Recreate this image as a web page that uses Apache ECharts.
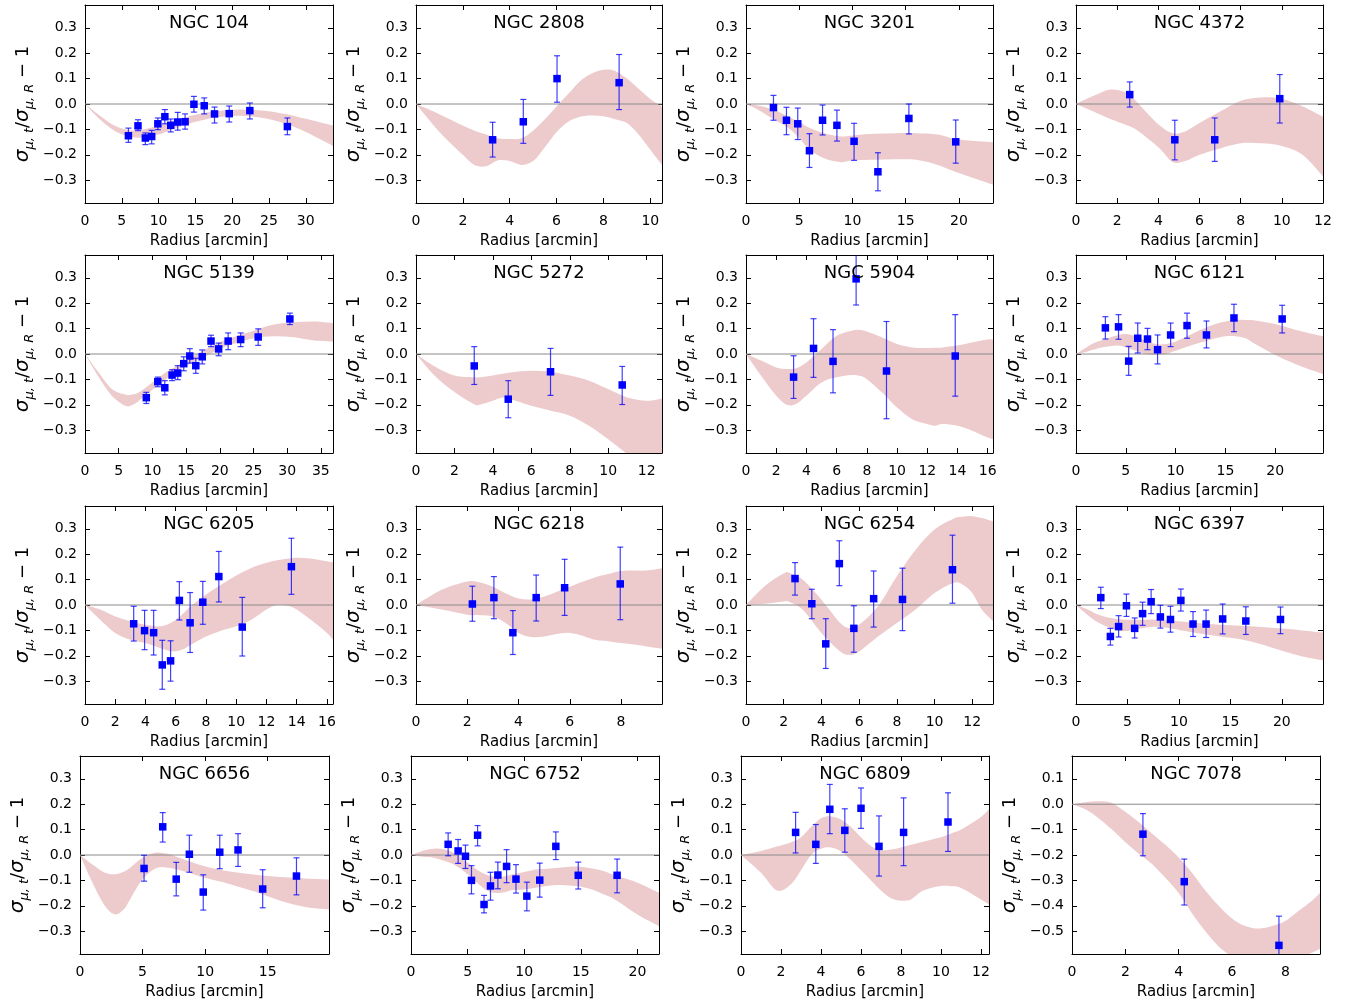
<!DOCTYPE html>
<html><head><meta charset="utf-8">
<script src="https://cdn.jsdelivr.net/npm/echarts@6/dist/echarts.min.js"></script>
<style>html,body{margin:0;padding:0;background:#fff}#c{width:1357px;height:1004px}</style>
</head><body><div id="c"></div>
<script>
// ---------- panel meta ----------
const NAMES = ['NGC 104','NGC 2808','NGC 3201','NGC 4372','NGC 5139','NGC 5272','NGC 5904','NGC 6121',
               'NGC 6205','NGC 6218','NGC 6254','NGC 6397','NGC 6656','NGC 6752','NGC 6809','NGC 7078'];
const XMAX = [33.7,10.5,23.2,12,36.8,12.8,16.35,24.8,16.4,9.6,13.1,24,19.9,21.9,12.4,9.3];
const XSTEP = [5,2,5,2,5,2,2,5,2,2,2,5,5,5,2,2];
const XTICKMAX = [30,10,20,12,35,12,16,20,16,8,12,20,15,20,12,8];
const YRANGE_STD = [-0.39,0.39];
const YRANGE_7078 = [-0.59,0.19];
const YTICKS_STD = [-0.3,-0.2,-0.1,0,0.1,0.2,0.3];
const YTICKS_7078 = [-0.5,-0.4,-0.3,-0.2,-0.1,0,0.1];

// ---------- points: [radius, value, errLow, errHigh] ----------
const p104 = [[5.9,-0.125,-0.151,-0.095],[7.2,-0.086,-0.105,-0.062],[8.2,-0.134,-0.16,-0.114],[9.06,-0.128,-0.157,-0.104],
  [9.9,-0.078,-0.101,-0.055],[10.85,-0.05,-0.078,-0.022],[11.65,-0.084,-0.11,-0.059],[12.6,-0.071,-0.103,-0.033],
  [13.6,-0.07,-0.099,-0.039],[14.8,-0.001,-0.032,0.03],[16.2,-0.007,-0.039,0.024],[17.6,-0.039,-0.075,-0.012],
  [19.6,-0.038,-0.071,-0.008],[22.4,-0.026,-0.059,0.004],[27.5,-0.089,-0.121,-0.055]];
const p2808 = [[3.27,-0.141,-0.209,-0.072],[4.58,-0.07,-0.155,0.018],[6.02,0.10,0.007,0.19],[8.67,0.084,-0.022,0.195]];
const p3201 = [[2.58,-0.014,-0.064,0.034],[3.8,-0.064,-0.121,-0.013],[4.86,-0.078,-0.14,-0.016],[5.96,-0.184,-0.25,-0.117],
  [7.19,-0.064,-0.122,-0.004],[8.54,-0.084,-0.146,-0.024],[10.15,-0.147,-0.222,-0.076],[12.39,-0.267,-0.342,-0.192],
  [15.3,-0.057,-0.118,0.0],[19.7,-0.149,-0.233,-0.063]];
const p4372 = [[2.61,0.037,-0.012,0.087],[4.8,-0.141,-0.22,-0.064],[6.74,-0.141,-0.226,-0.055],[9.9,0.021,-0.075,0.116]];
const p5139 = [[9.1,-0.172,-0.195,-0.151],[10.8,-0.109,-0.129,-0.091],[11.84,-0.133,-0.161,-0.105],[12.92,-0.083,-0.105,-0.062],
  [13.76,-0.075,-0.101,-0.046],[14.65,-0.038,-0.066,-0.011],[15.55,-0.008,-0.036,0.021],[16.44,-0.046,-0.076,-0.017],
  [17.4,-0.011,-0.039,0.016],[18.7,0.051,0.029,0.074],[19.83,0.02,-0.007,0.043],[21.24,0.051,0.017,0.083],
  [23.1,0.057,0.029,0.083],[25.7,0.067,0.034,0.099],[30.4,0.138,0.116,0.161]];
const p5272 = [[3.03,-0.047,-0.12,0.029],[4.8,-0.178,-0.251,-0.105],[7.0,-0.07,-0.163,0.022],[10.73,-0.122,-0.199,-0.049]];
const p5904 = [[3.15,-0.091,-0.175,-0.007],[4.47,0.022,-0.092,0.139],[5.76,-0.029,-0.153,0.096],[7.29,0.296,0.193,0.41],
  [9.3,-0.067,-0.255,0.128],[13.85,-0.008,-0.166,0.155]];
const p6121 = [[2.95,0.103,0.059,0.147],[4.27,0.107,0.058,0.155],[5.29,-0.028,-0.084,0.03],[6.2,0.062,0.004,0.122],
  [7.18,0.059,0.017,0.101],[8.19,0.017,-0.039,0.075],[9.5,0.075,0.029,0.122],[11.15,0.112,0.062,0.161],
  [13.1,0.075,0.024,0.13],[15.86,0.142,0.088,0.196],[20.7,0.138,0.083,0.192]];
const p6205 = [[3.22,-0.074,-0.142,-0.005],[3.94,-0.101,-0.176,-0.021],[4.54,-0.109,-0.197,-0.021],[5.11,-0.236,-0.332,-0.139],
  [5.66,-0.22,-0.3,-0.141],[6.24,0.018,-0.059,0.092],[6.95,-0.07,-0.187,0.049],[7.79,0.011,-0.076,0.093],
  [8.85,0.112,0.012,0.211],[10.4,-0.087,-0.201,0.03],[13.65,0.151,0.042,0.263]];
const p6218 = [[2.2,0.004,-0.064,0.074],[3.04,0.029,-0.054,0.112],[3.78,-0.109,-0.195,-0.022],[4.69,0.029,-0.063,0.118],
  [5.8,0.068,-0.041,0.18],[7.97,0.083,-0.058,0.228]];
const p6254 = [[2.6,0.104,0.039,0.167],[3.49,0.005,-0.054,0.062],[4.23,-0.153,-0.25,-0.054],[4.95,0.163,0.076,0.253],
  [5.72,-0.092,-0.186,-0.003],[6.77,0.025,-0.087,0.134],[8.3,0.022,-0.101,0.145],[10.95,0.139,0.007,0.275]];
const p6397 = [[2.41,0.029,-0.014,0.07],[3.34,-0.124,-0.158,-0.092],[4.14,-0.085,-0.126,-0.042],[4.9,-0.003,-0.045,0.043],
  [5.7,-0.092,-0.13,-0.051],[6.47,-0.034,-0.08,0.011],[7.3,0.013,-0.034,0.061],[8.2,-0.047,-0.091,-0.001],
  [9.18,-0.057,-0.107,-0.005],[10.19,0.018,-0.024,0.063],[11.37,-0.075,-0.124,-0.026],[12.64,-0.075,-0.128,-0.02],
  [14.25,-0.055,-0.114,0.004],[16.5,-0.063,-0.116,-0.007],[19.87,-0.057,-0.113,-0.008]];
const p6656 = [[5.12,-0.053,-0.103,-0.001],[6.61,0.111,0.051,0.167],[7.69,-0.095,-0.161,-0.029],[8.74,0.003,-0.068,0.078],
  [9.85,-0.146,-0.217,-0.078],[11.17,0.011,-0.054,0.078],[12.63,0.02,-0.045,0.084],[14.6,-0.134,-0.208,-0.058],
  [17.3,-0.083,-0.157,-0.011]];
const p6752 = [[3.28,0.042,-0.003,0.087],[4.16,0.016,-0.033,0.061],[4.81,-0.005,-0.053,0.039],[5.34,-0.1,-0.153,-0.042],
  [5.88,0.078,0.036,0.116],[6.45,-0.195,-0.228,-0.159],[7.02,-0.122,-0.178,-0.068],[7.67,-0.079,-0.133,-0.028],
  [8.44,-0.045,-0.109,0.021],[9.27,-0.095,-0.15,-0.038],[10.23,-0.162,-0.22,-0.107],[11.37,-0.099,-0.166,-0.032],
  [12.79,0.034,-0.018,0.091],[14.77,-0.08,-0.134,-0.028],[18.2,-0.08,-0.149,-0.016]];
const p6809 = [[2.73,0.089,0.008,0.168],[3.74,0.042,-0.033,0.12],[4.44,0.18,0.084,0.278],[5.19,0.097,0.011,0.182],
  [6.0,0.184,0.105,0.264],[6.9,0.034,-0.083,0.154],[8.13,0.089,-0.042,0.225],[10.35,0.13,0.014,0.245]];
const p7078 = [[2.66,-0.118,-0.203,-0.037],[4.21,-0.305,-0.397,-0.216],[7.76,-0.556,-0.67,-0.441]];

// ---------- model bands: [radius, lower, upper] ----------
const b104 = [[0,0,0],[2,-0.06,-0.045],[4,-0.105,-0.085],[6,-0.128,-0.103],[8,-0.132,-0.1],[10,-0.12,-0.085],[12,-0.098,-0.065],
  [15,-0.07,-0.042],[18,-0.052,-0.028],[21,-0.046,-0.022],[24,-0.054,-0.026],[27,-0.075,-0.038],[30,-0.11,-0.058],[33.7,-0.165,-0.085]];
const b2808 = [[0,0,0],[1,-0.11,-0.04],[2,-0.2,-0.085],[2.5,-0.24,-0.105],[3,-0.245,-0.12],[3.5,-0.222,-0.135],[4,-0.225,-0.138],
  [4.5,-0.24,-0.135],[5,-0.225,-0.105],[5.5,-0.17,-0.06],[6,-0.11,-0.01],[6.5,-0.07,0.04],[7,-0.05,0.09],[7.5,-0.045,0.12],
  [8,-0.048,0.135],[8.5,-0.06,0.13],[9,-0.075,0.1],[9.5,-0.12,0.06],[10,-0.18,0.02],[10.5,-0.24,-0.01]];
const b3201 = [[0,0,0],[1,-0.02,-0.005],[2,-0.045,-0.015],[3,-0.07,-0.03],[4,-0.095,-0.05],[5,-0.135,-0.07],[6,-0.18,-0.095],
  [7.5,-0.217,-0.117],[9,-0.229,-0.128],[10,-0.222,-0.124],[12,-0.22,-0.117],[14,-0.218,-0.115],[16,-0.22,-0.115],
  [18,-0.24,-0.12],[20,-0.272,-0.14],[23.2,-0.318,-0.151]];
const b4372 = [[0,0,0],[1,-0.035,0.037],[1.7,-0.06,0.057],[2.5,-0.085,0.043],[3,-0.105,0.004],[4,-0.17,-0.08],[4.7,-0.228,-0.115],
  [5.3,-0.225,-0.108],[6,-0.2,-0.075],[7,-0.175,-0.03],[8,-0.155,0.013],[9,-0.155,0.026],[10,-0.165,0.021],[11,-0.2,-0.009],[12,-0.285,-0.05]];
const b5139 = [[0,0,0],[2,-0.09,-0.072],[4,-0.165,-0.138],[6,-0.204,-0.16],[7,-0.201,-0.16],[8,-0.184,-0.151],[10,-0.141,-0.112],
  [12,-0.099,-0.072],[14,-0.062,-0.04],[16,-0.033,-0.009],[18,-0.007,0.02],[20,0.02,0.046],[22,0.039,0.066],[25,0.062,0.092],
  [28,0.07,0.116],[31,0.066,0.125],[34,0.053,0.128],[36.8,0.049,0.122]];
const b5272 = [[0,0,0],[1,-0.088,-0.05],[2,-0.15,-0.085],[3,-0.197,-0.092],[3.3,-0.2,-0.092],[4,-0.184,-0.085],[4.5,-0.171,-0.078],
  [5,-0.18,-0.072],[6,-0.204,-0.066],[7,-0.224,-0.07],[8,-0.243,-0.085],[9,-0.283,-0.105],[10,-0.336,-0.138],[11,-0.395,-0.171],
  [12,-0.455,-0.184],[12.8,-0.49,-0.175]];
const b5904 = [[0,0,0],[1,-0.086,-0.026],[2,-0.164,-0.053],[2.7,-0.2,-0.059],[3.3,-0.197,-0.056],[4,-0.164,-0.033],[5,-0.112,0.02],
  [6,-0.092,0.072],[7,-0.083,0.092],[7.5,-0.086,0.095],[8,-0.099,0.089],[9,-0.151,0.066],[10,-0.211,0.039],[11,-0.257,0.026],
  [12,-0.276,0.024],[12.5,-0.283,0.025],[13,-0.276,0.026],[14,-0.283,0.033],[15,-0.303,0.046],[16,-0.329,0.057],[16.35,-0.336,0.057]];
const b6121 = [[0,0,0],[1,0.008,0.025],[2,0.02,0.046],[4,0.033,0.072],[5,0.026,0.079],[6,0.013,0.07],[7,0.0,0.053],[8,-0.004,0.039],
  [9,0.0,0.039],[10,0.013,0.049],[12,0.039,0.086],[14,0.062,0.118],[15,0.07,0.128],[16,0.07,0.134],[17,0.062,0.134],
  [18,0.039,0.132],[20,-0.004,0.118],[22,-0.039,0.096],[24.8,-0.079,0.07]];
const b6205 = [[0,0,0],[1,-0.058,-0.018],[2,-0.11,-0.045],[3,-0.137,-0.064],[4,-0.15,-0.078],[5,-0.17,-0.084],[5.8,-0.183,-0.066],
  [6.5,-0.174,-0.033],[7,-0.157,-0.005],[8,-0.124,0.041],[9,-0.101,0.08],[10,-0.084,0.116],[11,-0.058,0.146],[12,-0.018,0.166],
  [12.7,0.0,0.176],[13.5,-0.005,0.183],[14,-0.018,0.186],[15,-0.061,0.182],[16,-0.11,0.172],[16.4,-0.137,0.168]];
const b6218 = [[0,0,0],[1,-0.018,0.06],[2,-0.038,0.093],[2.5,-0.04,0.089],[3,-0.045,0.072],[3.5,-0.071,0.046],[4,-0.11,0.026],
  [4.5,-0.126,0.022],[5,-0.124,0.033],[6,-0.11,0.072],[7,-0.137,0.109],[7.5,-0.143,0.122],[8,-0.15,0.134],[8.5,-0.156,0.136],
  [9,-0.163,0.136],[9.6,-0.172,0.145]];
const b6254 = [[0,0,0],[1,0.005,0.075],[2,0.014,0.124],[2.3,0.012,0.126],[3,-0.018,0.1],[4,-0.11,0.021],[5,-0.183,-0.071],
  [5.5,-0.196,-0.091],[6,-0.183,-0.078],[7,-0.124,-0.005],[8,-0.071,0.113],[9,-0.018,0.218],[10,0.047,0.297],[11,0.087,0.34],
  [11.5,0.08,0.348],[12,0.047,0.35],[12.5,-0.018,0.343],[13.1,-0.064,0.33]];
const b6397 = [[0,0,0],[1,-0.035,-0.015],[2,-0.065,-0.035],[3,-0.085,-0.048],[4,-0.1,-0.055],[5,-0.102,-0.058],[6,-0.095,-0.058],
  [7,-0.088,-0.058],[8,-0.086,-0.058],[10,-0.098,-0.064],[12,-0.112,-0.072],[14,-0.124,-0.078],[16,-0.135,-0.082],
  [18,-0.155,-0.087],[20,-0.18,-0.093],[22,-0.203,-0.1],[24,-0.218,-0.108]];
const b6656 = [[0,0,0],[1,-0.109,-0.037],[2,-0.201,-0.07],[2.8,-0.234,-0.076],[3.5,-0.214,-0.066],[4,-0.175,-0.05],[5,-0.096,-0.011],
  [6,-0.054,0.009],[7,-0.05,0.005],[8,-0.06,-0.012],[9,-0.075,-0.03],[10,-0.09,-0.045],[12,-0.115,-0.065],[14,-0.145,-0.078],
  [16,-0.18,-0.087],[18,-0.205,-0.093],[19.9,-0.215,-0.097]];
const b6752 = [[0,0,0],[1,-0.007,0.016],[2,-0.011,0.025],[3,-0.024,0.022],[4,-0.043,0.003],[5,-0.076,-0.03],[6,-0.116,-0.063],
  [7,-0.146,-0.083],[8,-0.149,-0.086],[9,-0.138,-0.076],[10,-0.136,-0.067],[11,-0.129,-0.057],[12,-0.122,-0.054],[13,-0.118,-0.05],
  [14,-0.12,-0.046],[15,-0.125,-0.046],[16,-0.136,-0.053],[17,-0.155,-0.063],[18,-0.175,-0.08],[20,-0.234,-0.109],[21.9,-0.28,-0.149]];
const b6809 = [[0,0,0],[1,-0.07,0.016],[1.8,-0.14,0.033],[2.5,-0.115,0.05],[3,-0.06,0.07],[3.5,0.0,0.11],[4,0.025,0.145],
  [4.5,0.03,0.152],[5,0.015,0.14],[5.5,-0.02,0.11],[6,-0.06,0.07],[6.5,-0.1,0.035],[7,-0.14,0.02],[7.5,-0.17,0.022],[8,-0.18,0.03],
  [8.5,-0.175,0.04],[9,-0.145,0.05],[9.5,-0.13,0.06],[10,-0.122,0.07],[10.5,-0.123,0.085],[11,-0.13,0.1],[12,-0.175,0.15],[12.4,-0.195,0.18]];
const b7078 = [[0,0,0],[0.5,-0.02,0.008],[1,-0.055,0.012],[1.5,-0.1,0.005],[2,-0.15,-0.03],[2.5,-0.195,-0.07],[3,-0.235,-0.115],
  [3.5,-0.29,-0.16],[4,-0.35,-0.21],[4.5,-0.43,-0.27],[5,-0.5,-0.34],[5.5,-0.56,-0.4],[6,-0.6,-0.45],[6.5,-0.63,-0.48],
  [7,-0.645,-0.49],[7.5,-0.645,-0.48],[8,-0.635,-0.46],[8.5,-0.61,-0.42],[9,-0.585,-0.38],[9.3,-0.57,-0.35]];

const POINTS = [p104,p2808,p3201,p4372,p5139,p5272,p5904,p6121,p6205,p6218,p6254,p6397,p6656,p6752,p6809,p7078];
const BANDS = [b104,b2808,b3201,b4372,b5139,b5272,b5904,b6121,b6205,b6218,b6254,b6397,b6656,b6752,b6809,b7078];

// ---------- layout ----------
const COL_LEFT = [[85,416,746,1076],[85,416,746,1076],[85,416,746,1076],[80,411,741,1072]];
const COL_W = [[248,246,247,247],[248,246,247,247],[248,246,247,247],[249,248,248,248]];
const ROW_TOP = [5,255,506,756];
const PH = 198;
const FONT = 'DejaVu Sans';
const BAND_COLOR = '#edcbcc';
const BLUE = '#0000ff';

const grids = [], xAxes = [], yAxes = [], series = [], graphics = [];
function range(a, b, s){ const r=[]; for(let v=a; v<=b+1e-9; v+=s) r.push(+v.toFixed(6)); return r; }
const yFmt = v => { if (Math.abs(v) < 1e-9) return '0.0'; return v.toFixed(1).replace('-', '\u2212'); };

// Catmull-Rom -> cubic bezier path segments through pixel points obtained from api.coord
function curvePath(P) {
  let s = '';
  for (let k = 0; k < P.length - 1; k++) {
    const p0 = P[k-1] || P[k], p1 = P[k], p2 = P[k+1], p3 = P[k+2] || P[k+1];
    const c1 = [p1[0] + (p2[0]-p0[0])/6, p1[1] + (p2[1]-p0[1])/6];
    const c2 = [p2[0] - (p3[0]-p1[0])/6, p2[1] - (p3[1]-p1[1])/6];
    s += ' C' + c1[0] + ' ' + c1[1] + ' ' + c2[0] + ' ' + c2[1] + ' ' + p2[0] + ' ' + p2[1];
  }
  return s;
}
function makeBandRenderer(band) {
  return function (params, api) {
    if (params.dataIndex !== 0) return null;
    const up = band.map(b => api.coord([b[0], b[2]]));
    const lo = band.map(b => api.coord([b[0], b[1]])).reverse();
    const d = 'M' + up[0][0] + ' ' + up[0][1] + curvePath(up) +
              ' L' + lo[0][0] + ' ' + lo[0][1] + curvePath(lo) + ' Z';
    return {type: 'path', shape: {pathData: d}, style: {fill: BAND_COLOR, stroke: null}};
  };
}

for (let i = 0; i < 16; i++) {
  const r = Math.floor(i/4), c = i % 4;
  const left = COL_LEFT[r][c], w = COL_W[r][c], top = ROW_TOP[r];
  grids.push({left: left, top: top, width: w, height: PH, containLabel: false});
  const xt = range(0, XTICKMAX[i], XSTEP[i]);
  const is7078 = i === 15;
  const yr = is7078 ? YRANGE_7078 : YRANGE_STD;
  const yt = is7078 ? YTICKS_7078 : YTICKS_STD;
  const tickStyle = {color: '#000', width: 1};
  xAxes.push({gridIndex: i, type: 'value', position: 'bottom', min: 0, max: XMAX[i],
    axisLine: {show: true, onZero: false, lineStyle: {color: '#000', width: 1}},
    axisTick: {show: true, inside: true, length: 5, customValues: xt, lineStyle: tickStyle},
    axisLabel: {show: true, customValues: xt, fontSize: 14, color: '#000', fontFamily: FONT, margin: 11},
    splitLine: {show: false},
    name: 'Radius [arcmin]', nameLocation: 'middle', nameGap: 31,
    nameTextStyle: {fontSize: 15, color: '#000', fontFamily: FONT}});
  xAxes.push({gridIndex: i, type: 'value', position: 'top', min: 0, max: XMAX[i],
    axisLine: {show: true, onZero: false, lineStyle: {color: '#000', width: 1}},
    axisTick: {show: true, inside: true, length: 5, customValues: xt, lineStyle: tickStyle},
    axisLabel: {show: false}, splitLine: {show: false}});
  yAxes.push({gridIndex: i, type: 'value', position: 'left', min: yr[0], max: yr[1],
    axisLine: {show: true, onZero: false, lineStyle: {color: '#000', width: 1}},
    axisTick: {show: true, inside: true, length: 5, customValues: yt, lineStyle: tickStyle},
    axisLabel: {show: true, customValues: yt, formatter: yFmt, fontSize: 14, color: '#000', fontFamily: FONT, margin: 8},
    splitLine: {show: false},
    name: '{i|\u03c3}{s|\u03bc, t}{n|/}{i|\u03c3}{s|\u03bc, R}{n| \u2212 1}',
    nameLocation: 'middle', nameGap: 49, nameRotate: 90,
    nameTextStyle: {color: '#000', fontFamily: FONT, rich: {
      i: {fontSize: 20, fontStyle: 'italic', fontFamily: FONT, color: '#000', lineHeight: 26, verticalAlign: 'middle'},
      s: {fontSize: 13, fontStyle: 'italic', fontFamily: FONT, color: '#000', lineHeight: 15, verticalAlign: 'bottom'},
      n: {fontSize: 18, fontFamily: FONT, color: '#000', lineHeight: 26, verticalAlign: 'middle'}}}});
  yAxes.push({gridIndex: i, type: 'value', position: 'right', min: yr[0], max: yr[1],
    axisLine: {show: true, onZero: false, lineStyle: {color: '#000', width: 1}},
    axisTick: {show: true, inside: true, length: 5, customValues: yt, lineStyle: tickStyle},
    axisLabel: {show: false}, splitLine: {show: false}});

  const band = BANDS[i], pts = POINTS[i];
  const xi = 2*i, yi = 2*i;
  series.push({type: 'custom', xAxisIndex: xi, yAxisIndex: yi, clip: true, z: 1, silent: true,
    data: band.map(b => [b[0], b[1], b[2]]), encode: {x: 0, y: [1, 2]},
    renderItem: makeBandRenderer(band)});
  series.push({type: 'line', xAxisIndex: xi, yAxisIndex: yi, data: [[0, 0], [XMAX[i], 0]],
    symbol: 'none', silent: true, z: 2, lineStyle: {color: '#8a8a8a', width: 1}});
  series.push({type: 'custom', xAxisIndex: xi, yAxisIndex: yi, clip: true, z: 3, silent: true,
    data: pts.map(p => [p[0], p[2], p[3]]),
    encode: {x: 0, y: [1, 2]},
    renderItem: function (params, api) {
      const x = api.value(0);
      const a = api.coord([x, api.value(1)]), b = api.coord([x, api.value(2)]);
      const st = {stroke: 'rgba(0,0,255,0.75)', lineWidth: 1.2};
      return {type: 'group', children: [
        {type: 'line', shape: {x1: a[0], y1: a[1], x2: b[0], y2: b[1]}, style: st},
        {type: 'line', shape: {x1: a[0]-3, y1: a[1], x2: a[0]+3, y2: a[1]}, style: st},
        {type: 'line', shape: {x1: b[0]-3, y1: b[1], x2: b[0]+3, y2: b[1]}, style: st}]};
    }});
  series.push({type: 'scatter', xAxisIndex: xi, yAxisIndex: yi, z: 4, clip: true,
    data: pts.map(p => [p[0], p[1]]), symbol: 'rect', symbolSize: 7.5,
    itemStyle: {color: BLUE, opacity: 1}});

  graphics.push({type: 'text', x: left + w/2, y: top + 9, z: 10,
    style: {text: NAMES[i], fontSize: 18, fontFamily: FONT, fill: '#000', textAlign: 'center', textVerticalAlign: 'top'}});
}

const chart = echarts.init(document.getElementById('c'), null, {renderer: 'canvas'});
chart.setOption({animation: false, backgroundColor: '#fff', grid: grids, xAxis: xAxes, yAxis: yAxes, series: series, graphic: graphics});
</script></body></html>
